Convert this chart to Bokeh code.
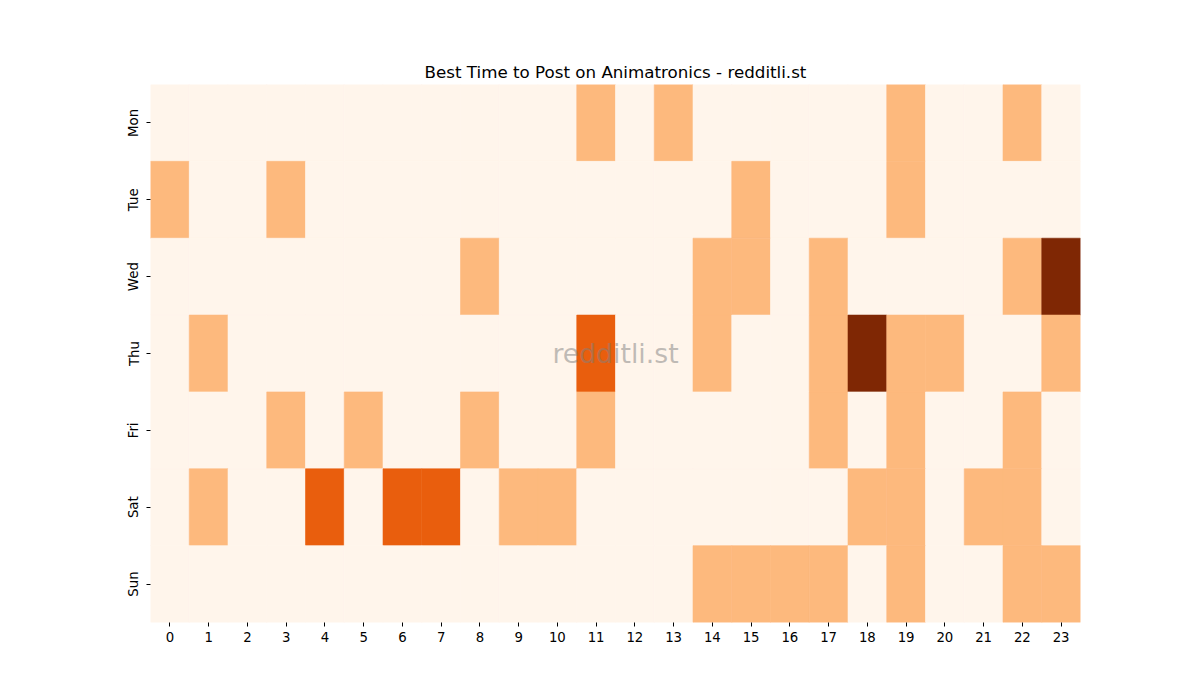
from bokeh.plotting import figure
from bokeh.models import ColumnDataSource, FactorRange, Range1d, FixedTicker, Label, LinearColorMapper
from bokeh.embed import file_html
from bokeh.resources import INLINE

days = ["Mon", "Tue", "Wed", "Thu", "Fri", "Sat", "Sun"]
hours = list(range(24))

# posts per (day, hour)
mon = [0, 0, 0, 0, 0, 0, 0, 0, 0, 0, 0, 1, 0, 1, 0, 0, 0, 0, 0, 1, 0, 0, 1, 0]
tue = [1, 0, 0, 1, 0, 0, 0, 0, 0, 0, 0, 0, 0, 0, 0, 1, 0, 0, 0, 1, 0, 0, 0, 0]
wed = [0, 0, 0, 0, 0, 0, 0, 0, 1, 0, 0, 0, 0, 0, 1, 1, 0, 1, 0, 0, 0, 0, 1, 3]
thu = [0, 1, 0, 0, 0, 0, 0, 0, 0, 0, 0, 2, 0, 0, 1, 0, 0, 1, 3, 1, 1, 0, 0, 1]
fri = [0, 0, 0, 1, 0, 1, 0, 0, 1, 0, 0, 1, 0, 0, 0, 0, 0, 1, 0, 1, 0, 0, 1, 0]
sat = [0, 1, 0, 0, 2, 0, 2, 2, 0, 1, 1, 0, 0, 0, 0, 0, 0, 0, 1, 1, 0, 1, 1, 0]
sun = [0, 0, 0, 0, 0, 0, 0, 0, 0, 0, 0, 0, 0, 0, 1, 1, 1, 1, 0, 1, 0, 0, 1, 1]
grid = [mon, tue, wed, thu, fri, sat, sun]

palette = ["#fff5eb", "#fdb97d", "#e95e0d", "#7f2704"]

xs, ys, vals = [], [], []
for day, row in zip(days, grid):
    for h, v in zip(hours, row):
        xs.append(h)
        ys.append(day)
        vals.append(v)
source = ColumnDataSource(dict(x=xs, y=ys, v=vals))

mapper = LinearColorMapper(palette=palette, low=-0.5, high=3.5)

p = figure(width=1184, height=684, output_backend="svg", toolbar_location=None,
           x_range=Range1d(-0.5, 23.5), y_range=FactorRange(factors=days[::-1]),
           min_border_left=150, min_border_right=104, min_border_top=84, min_border_bottom=62)
p.rect(x="x", y="y", width=1, height=1, source=source,
       fill_color={"field": "v", "transform": mapper},
       line_color={"field": "v", "transform": mapper}, line_width=0.6)

p.outline_line_color = None
p.xgrid.grid_line_color = None
p.ygrid.grid_line_color = None
p.background_fill_color = "white"

for ax in (p.xaxis, p.yaxis):
    ax.axis_line_color = None
    ax.major_tick_in = 0
    ax.major_tick_out = 4
    ax.major_tick_line_color = "black"
    ax.minor_tick_line_color = None
    ax.major_label_text_font = "DejaVu Sans"
    ax.major_label_text_font_size = "13.3px"
    ax.major_label_text_color = "black"
    ax.major_label_standoff = 5
p.xaxis.ticker = FixedTicker(ticks=hours)
p.yaxis.major_label_orientation = "vertical"

p.title.text = "Best Time to Post on Animatronics - redditli.st"
p.title.align = "center"
p.title.text_font = "DejaVu Sans"
p.title.text_font_size = "16.7px"
p.title.text_font_style = "normal"
p.title.text_color = "black"
p.title.standoff = 6

wm = Label(x=11.5, y=3.5, text="redditli.st", text_align="center", text_baseline="middle",
           text_font="DejaVu Sans", text_font_size="26.7px", text_color="gray", text_alpha=0.5)
p.add_layout(wm)

open("out.html", "w").write(file_html(p, INLINE))
